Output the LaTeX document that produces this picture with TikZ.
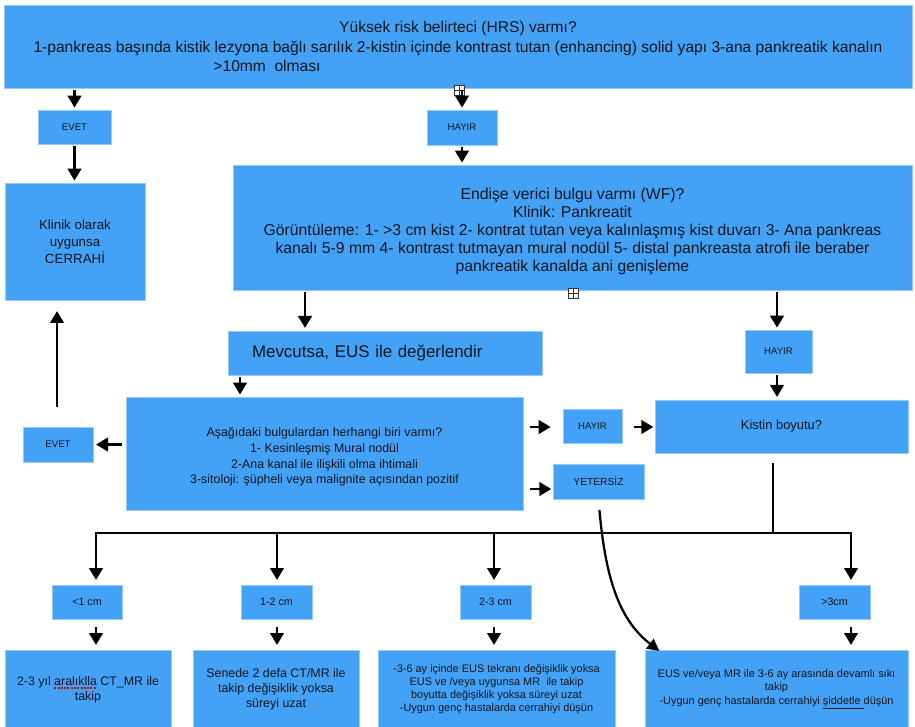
\documentclass[tikz,border=0pt]{standalone}
\usepackage{fontspec}
\setmainfont{Liberation Sans}
\usetikzlibrary{arrows.meta,calc}

\definecolor{boxblue}{RGB}{67,161,246}
\definecolor{boxedge}{RGB}{150,200,250}
\definecolor{ink}{RGB}{18,22,30}

% red dotted spell-check mark under a word
\newsavebox\spellbox
\newcommand\spellmark[1]{\sbox\spellbox{#1}\leavevmode\rlap{\usebox\spellbox}%
  \raisebox{-0.5ex}{\textcolor{red!85!black}{\hbox to \wd\spellbox{\xleaders\hbox{\rule{0.16em}{0.2ex}\hspace{0.1em}}\hfill}}}}

\tikzset{
  box/.style={fill=boxblue, draw=boxedge, line width=0.5pt, text=ink, align=center, inner sep=2pt},
  sz/.style 2 args={minimum width=#1*0.75pt, minimum height=#2*0.75pt},
  arr/.style={line width=2.2pt, -{Triangle[width=10pt,length=9pt]}},
  link/.style={line width=2.2pt},
  fold/.style={draw=black!80, fill=white, line width=0.5pt, minimum size=7.5pt, inner sep=0pt,
    path picture={\draw[line width=0.5pt]
      (path picture bounding box.north) -- (path picture bounding box.south)
      (path picture bounding box.west) -- (path picture bounding box.east);}},
  ftop/.style={font=\fontsize{11.7}{14.6}\selectfont},
  fwf/.style={font=\fontsize{11.8}{13.6}\selectfont},
  fmid/.style={font=\fontsize{10}{12.8}\selectfont},
  fmev/.style={font=\fontsize{12.7}{14}\selectfont},
  fsmall/.style={font=\fontsize{9.3}{11.8}\selectfont},
  fkist/.style={font=\fontsize{9.7}{11}\selectfont},
  ftag/.style={font=\fontsize{7.2}{8}\selectfont},
  fyet/.style={font=\fontsize{7.7}{8}\selectfont},
  fcm/.style={font=\fontsize{8}{8}\selectfont},
  fbot/.style={font=\fontsize{9.3}{11.2}\selectfont},
  fbotsm/.style={font=\fontsize{8.2}{9.8}\selectfont},
}

\begin{document}
\begin{tikzpicture}[x=0.75pt, y=-0.75pt]
\useasboundingbox (0,0) rectangle (915,727);

% ---- boxes ----
\node[box, sz={908}{83}, ftop] (top) at (458,46.5)
  {Yüksek risk belirteci (HRS) varmı?\\1-pankreas başında kistik lezyona bağlı sarılık 2-kistin içinde kontrast tutan (enhancing) solid yapı 3-ana pankreatik kanalın\\\mbox{}};
\node[ftop, text=ink, inner sep=0pt] (topnote) at (267,66) {>10mm\ \ olması};

\node[box, sz={73}{34}, ftag] (evet1) at (74.5,127) {EVET};
\node[box, sz={140}{117}, fmid] (klinik) at (75,241.5) {Klinik olarak\\uygunsa\\CERRAHİ};
\node[box, sz={70}{35}, ftag] (hayir1) at (462,127.5) {HAYIR};

\node[box, sz={679}{125}, fwf] (wf) at (572.5,227.5)
  {\rule{0pt}{14.5pt}Endişe verici bulgu varmı (WF)?\\Klinik: Pankreatit\\
   Görüntüleme: 1- >3 cm kist 2- kontrat tutan veya kalınlaşmış kist duvarı 3- Ana pankreas\\
   kanalı 5-9 mm 4- kontrast tutmayan mural nodül 5- distal pankreasta atrofi ile beraber\\
   pankreatik kanalda ani genişleme};

\node[box, sz={314}{44}, fmev, align=left, text width=266*0.75pt, inner xsep=18pt] (mev) at (385,353)
  {Mevcutsa, EUS ile değerlendir};
\node[box, sz={67}{43}, ftag] (hayir2) at (778.5,351.5) {HAYIR};

\node[box, sz={397}{113}, fsmall] (big) at (324.5,453.5)
  {\rule{0pt}{12pt}Aşağıdaki bulgulardan herhangi biri varmı?\\1- Kesinleşmiş Mural nodül\\2-Ana kanal ile ilişkili olma ihtimali\\3-sitoloji: şüpheli veya malignite açısından pozitif};
\node[box, sz={70}{35}, ftag] (evet2) at (58,444.5) {EVET};
\node[box, sz={59}{34}, ftag] (hayir3) at (592.5,426) {HAYIR};
\node[box, sz={253}{53}, fkist] (kist) at (781.5,426.5) {Kistin boyutu?};
\node[box, sz={91}{35}, fyet] (yet) at (598.5,481.5) {YETERSİZ};

\node[box, sz={70}{34}, fcm] (s1) at (87,602) {<1 cm};
\node[box, sz={71}{34}, fcm] (s2) at (276.5,602) {1-2 cm};
\node[box, sz={71}{34}, fcm] (s3) at (495.5,602) {2-3 cm};
\node[box, sz={71}{34}, fcm] (s4) at (834.5,602) {>3cm};

\node[box, sz={166}{79}, fbot] (b1) at (88,689.5) {2-3 yıl \spellmark{aralıklla} CT\_MR ile\\takip};
\node[box, sz={166}{79}, fbot] (b2) at (276,689.5) {Senede 2 defa CT/MR ile\\takip değişiklik yoksa\\süreyi uzat};
\node[box, sz={237}{79}, fbotsm] (b3) at (496.5,689.5)
  {-3-6 ay içinde EUS tekranı değişiklik yoksa\\EUS ve /veya uygunsa MR\ \ ile takip\\boyutta değişiklik yoksa süreyi uzat\\-Uygun genç hastalarda cerrahiyi düşün};
\node[box, sz={263}{79}, fbotsm] (b4) at (776.5,689.5)
  {EUS ve/veya MR ile 3-6 ay arasında devamlı sıkı\\takip\\-Uygun genç hastalarda cerrahiyi \underline{şiddetle\ }düşün};

% ---- collapse markers ----
\node[fold] (fold1) at (459,90) {};
\node[fold] (fold2) at (573.5,293) {};

% ---- helper coordinates ----
\coordinate (x305) at (305,0);
\coordinate (x240) at (240,0);
\coordinate (x57) at (57,0);
\coordinate (x777) at (777,0);
\coordinate (y427) at (0,427);
\coordinate (y489) at (0,489);
\coordinate (hub) at (773,533);
\coordinate (t1) at (96,533);
\coordinate (t2) at (277,533);
\coordinate (t3) at (494,533);
\coordinate (t4) at (851,533);

% ---- connectors ----
\draw[arr, shorten <=1.5pt, shorten >=1.5pt] (top.south -| evet1.north) -- (evet1.north);
\draw[arr, shorten <=1pt, shorten >=1.5pt] (evet1.south) -- (klinik.north -| evet1.south);
\draw[arr, shorten <=1.5pt, shorten >=1.5pt] (top.south -| hayir1.north) -- (hayir1.north);
\draw[arr, shorten <=1pt, shorten >=1.5pt] (hayir1.south) -- (wf.north -| hayir1.south);

\draw[arr, shorten <=1.5pt, shorten >=2pt] (wf.south -| x305) -- (mev.north -| x305);
\draw[arr, shorten <=1.5pt, shorten >=1.5pt] (mev.south -| x240) -- (big.north -| x240);

\draw[arr, shorten <=3pt, shorten >=2pt] (big.west |- evet2.east) -- (evet2.east);
\draw[arr, shorten <=15pt, shorten >=8pt] (evet2.north -| x57) -- (klinik.south -| x57);

\draw[arr, shorten <=5pt, shorten >=9pt] (big.east |- y427) -- (hayir3.west |- y427);
\draw[arr, shorten <=9pt, shorten >=1pt] (hayir3.east |- y427) -- (kist.west |- y427);
\draw[arr, shorten <=5pt, shorten >=1pt] (big.east |- y489) -- (yet.west |- y489);

\draw[arr, shorten <=1.5pt, shorten >=1.5pt] (wf.south -| x777) -- (hayir2.north -| x777);
\draw[arr, shorten <=1.5pt, shorten >=2pt] (hayir2.south -| x777) -- (kist.north -| x777);

\draw[link, shorten <=7.5pt] (kist.south -| hub) -- (hub);
\draw[link, line cap=rect] (t1) -- (t4);
\foreach \i in {1,2,3,4}{
  \draw[arr, shorten >=3.5pt] (t\i) -- (s\i.north -| t\i);
  \draw[arr, shorten <=6pt, shorten >=3.5pt] (s\i.south -| t\i) -- (b\i.north -| t\i);
}

\draw[line width=1.7pt, -{Triangle[width=9pt,length=9pt]}, shorten <=8pt]
  (yet.south) .. controls (606,585) and (622,622) .. ([xshift=11pt,yshift=-1pt]b4.north west);
\end{tikzpicture}
\end{document}
